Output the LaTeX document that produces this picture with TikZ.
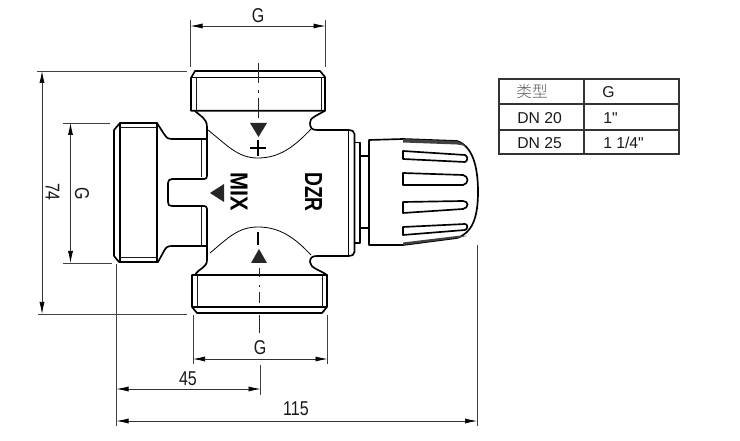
\documentclass[tikz,border=0pt]{standalone}
\usepackage{fontspec}
\setmainfont{Liberation Sans}
\newfontfamily\tabf{Liberation Sans}
\newfontfamily\dimf[FakeStretch=0.8]{Liberation Sans}
\newfontfamily\mixf[FakeStretch=0.88]{Liberation Sans Bold}
\newfontfamily\dzrf[FakeStretch=0.78]{Liberation Sans Bold}
\newfontfamily\cjk{Noto Sans CJK SC Light}
\usetikzlibrary{arrows.meta}
\tikzset{
  heavy/.style={line width=1.25pt,line join=round,line cap=round},
  medium/.style={line width=.8pt,line join=round},
  fine/.style={line width=.5pt,black!90},
  extline/.style={line width=.55pt,black!75},
  dimline/.style={line width=.55pt,black!80,{Latex[length=9pt,width=3.8pt,black]}-{Latex[length=9pt,width=3.8pt,black]}},
  chain/.style={line width=.6pt,black!85},
  dimtext/.style={font=\dimf\fontsize{15}{16}\selectfont,inner sep=0pt,text=black!90},
  tabtext/.style={font=\tabf\fontsize{11.8}{14}\selectfont,inner sep=0pt,anchor=west,text=black!90},
  tabline/.style={line width=.85pt,black!80},
  solid black/.style={fill=black!85,draw=none}
}
\begin{document}
\begin{tikzpicture}[x=.75pt,y=-.75pt]
\path[use as bounding box,fill=white] (0,0) rectangle (740,441);
% top fitting
\draw[heavy] (195,71)--(320,71)--(325,77)--(325,110.7)--(191,110.7)--(191,78)--cycle;
\draw[medium] (191,77.5)--(325,77.5);
\draw[fine] (196,77)--(196,110) (321,77)--(321,110);
% bottom fitting
\draw[heavy] (192,275)--(327,275)--(327,307)--(322,313)--(197,313)--(192,307)--cycle;
\draw[medium] (192,307)--(327,307);
\draw[fine] (197,275)--(197,307) (322,275)--(322,307);
% left side of body
\draw[heavy] (195,111) .. controls (200,116) and (207,118) .. (207,127) -- (207,176)
  .. controls (207,178) and (206,179) .. (204,179) -- (172,179)
  .. controls (169,179) and (168,181) .. (168,183) -- (168,202)
  .. controls (168,205) and (169,206) .. (172,206) -- (204,206)
  .. controls (206,206) and (207,207) .. (207,209) -- (207,260)
  .. controls (207,268) and (199,268) .. (195,275);
% left fitting
\draw[heavy] (206,139)--(172,139) .. controls (167,139) and (166,137) .. (164,134) -- (157,123) -- (120,123) -- (114,130) -- (114,256) -- (119,262) -- (158,262) -- (164,251) .. controls (166,247) and (168,246) .. (172,246) -- (206,246);
\draw[heavy] (120,123)--(120,262) (157,123)--(157,262);
\draw[fine] (120,127.5)--(157,127.5) (120,257)--(158,257);
\draw[fine] (201.5,139)--(201.5,177) (201.5,207)--(201.5,245);
% right side of body
\draw[heavy] (325,110.7) .. controls (318,115) and (309,118) .. (310,123)
  .. controls (310,128) and (312,130) .. (317,130) -- (349,130) .. controls (352,130) and (354,131) .. (354.5,134) -- (354.5,252)
  .. controls (354,255) and (352,256) .. (349,256) -- (317,256)
  .. controls (312,256) and (310,258) .. (310,262) .. controls (310,268) and (320,270) .. (327,275);
\draw[medium] (348.5,130)--(348.5,256);
\draw[heavy] (355,142.5)--(360,142.5)--(360,243)--(355,243);
\draw[medium] (360,156)--(369,156) (360,228)--(369,228);
% curves
\draw[line width=.6pt] (208,130) .. controls (228,146) and (238,158) .. (258,158) .. controls (280,158) and (295,146) .. (311,129);
\draw[line width=.6pt] (210,253) .. controls (228,238) and (238,227) .. (258,227) .. controls (280,227) and (295,238) .. (311,255);
% dial
\draw[heavy] (369,245)--(369,140)--(403,139)--(457,141) .. controls (472,146) and (478,165) .. (478,192) .. controls (478,218) and (472,233) .. (457,238)--(403,245)--cycle;
\fill[black!75] (403,139)--(457,141)--(467,146)--(457,144.5)--(403,142.5)--cycle;
\fill[black!75] (403,245)--(457,238)--(467,236)--(457,236)--(403,242.5)--cycle;
\draw[heavy] (403,151)--(465,155) .. controls (468,156) and (468,161) .. (465,162)--(403,159)--cycle;
\draw[heavy] (403,173)--(463,175) .. controls (469,176) and (469,184) .. (463,185)--(403,185)--cycle;
\draw[heavy] (403,202)--(463,201) .. controls (469,201) and (469,208) .. (463,209)--(403,213)--cycle;
\draw[heavy] (403,227)--(465,224) .. controls (468,224) and (468,229) .. (465,230)--(403,235)--cycle;
% centre line
\draw[chain] (258,63)--(258,83) (258,90)--(258,93) (258,98)--(258,118);
\draw[chain] (259,268)--(259,277) (259,285)--(259,287) (259,292)--(259,303) (259,315)--(259,333);
% symbols
\fill[solid black] (250,123)--(267,123)--(258.5,137)--cycle;
\draw[line width=1.5pt] (250,148)--(266,148) (258,140)--(258,156);
\fill[solid black] (259,249)--(251,263)--(267,263)--cycle;
\draw[line width=1.5pt] (258,232)--(258,245);
\fill[solid black] (210,193)--(224,184)--(224,202)--cycle;
\node[rotate=-90,inner sep=0pt,font=\mixf\fontsize{18.5}{20}\selectfont] (mix) at (239,192) {MIX};
\node[rotate=-90,inner sep=0pt,font=\dzrf\fontsize{18.5}{20}\selectfont] (dzr) at (313.5,192) {DZR};
% extension lines
\draw[extline] (190.5,20)--(190.5,67) (325.5,20)--(325.5,67);
\draw[extline] (37,71)--(187,71) (38,314)--(187,314);
\draw[extline] (63,123)--(110,123) (63,263)--(112,263);
\draw[extline] (116.5,264)--(116.5,426);
\draw[extline] (193,315)--(193,364) (327.5,315)--(327.5,364);
\draw[extline] (260.5,365)--(260.5,395);
\draw[extline] (477,245)--(477,426);
% dimensions
\coordinate (gtl) at (190.5,26); \coordinate (gtr) at (325.5,26);
\draw[dimline] (gtl)--(gtr);
\coordinate (a74t) at (42,71); \coordinate (a74b) at (42,314);
\draw[dimline] (a74t)--(a74b);
\coordinate (glt) at (70.5,123); \coordinate (glb) at (70.5,263);
\draw[dimline] (glt)--(glb);
\coordinate (gbl) at (193,359); \coordinate (gbr) at (327.5,359);
\draw[dimline] (gbl)--(gbr);
\coordinate (d45l) at (116.5,389); \coordinate (d45r) at (260.5,389);
\draw[dimline] (d45l)--(d45r);
\coordinate (d115l) at (116.5,421); \coordinate (d115r) at (477,421);
\draw[dimline] (d115l)--(d115r);
\node[dimtext] (tg1) at (258,16) {G};
\node[dimtext,rotate=-90] (tg2) at (82,194) {G};
\node[dimtext,rotate=-90] (t74) at (52.5,192) {74};
\node[dimtext] (tg3) at (260,348) {G};
\node[dimtext] (t45) at (188,379) {45};
\node[dimtext] (t115) at (296,409) {115};
% table
\draw[tabline] (499,79) rectangle (679,154);
\draw[tabline] (499,104)--(679,104) (499,130)--(679,130) (584,79)--(584,154);
\node[tabtext,font=\cjk\fontsize{11.8}{14}\selectfont,text=black!65] (c1) at (516,91.5) {类型};
\node[tabtext] (c2) at (602,92) {G};
\node[tabtext] (c3) at (517,118) {DN 20};
\node[tabtext] (c4) at (603,118) {1"};
\node[tabtext] (c5) at (517,143) {DN 25};
\node[tabtext] (c6) at (603,143) {1 1/4"};
\end{tikzpicture}
\end{document}
